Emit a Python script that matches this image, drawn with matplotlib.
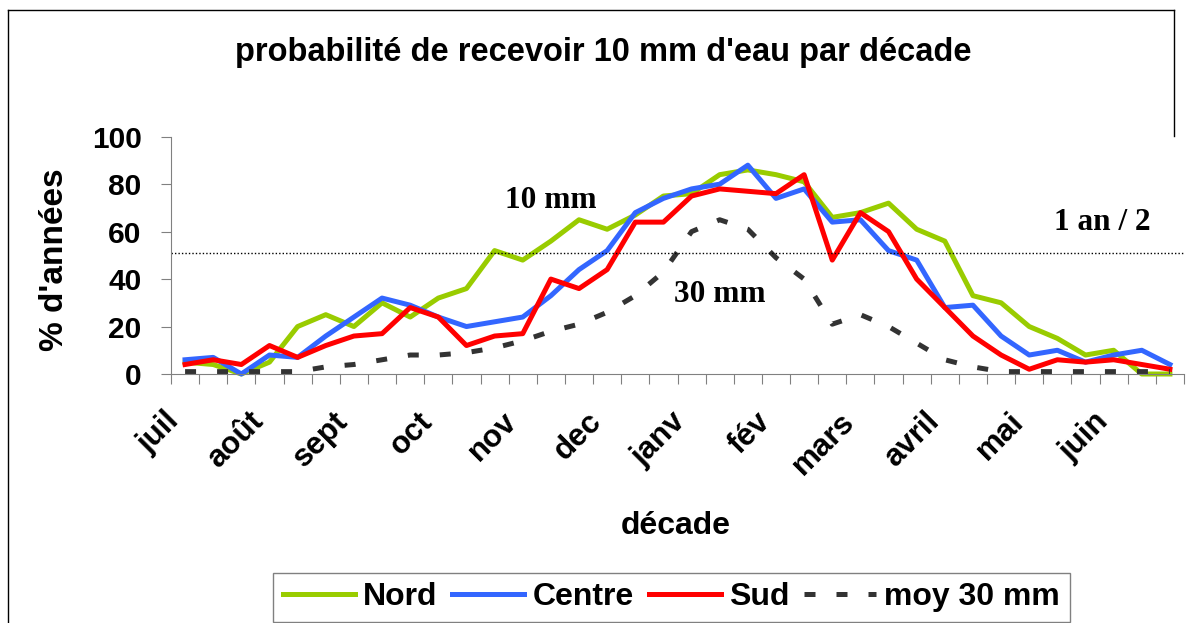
import numpy as np
import matplotlib.pyplot as plt
from matplotlib.lines import Line2D
from matplotlib.transforms import ScaledTranslation

plt.rcParams['font.family'] = ['Liberation Sans', 'DejaVu Sans']

# 36 décades, juillet -> juin
mois = ['juil', 'août', 'sept', 'oct', 'nov', 'dec',
        'janv', 'fév', 'mars', 'avril', 'mai', 'juin']
nord = [5, 4, 0, 5, 20, 25, 20, 30, 24, 32, 36, 52, 48, 56, 65, 61, 67, 75,
        76, 84, 86, 84, 81, 66, 68, 72, 61, 56, 33, 30, 20, 15, 8, 10, 0, 0]
centre = [6, 7, 0, 8, 7, 16, 24, 32, 29, 24, 20, 22, 24, 33, 44, 52, 68, 74,
          78, 80, 88, 74, 78, 64, 65, 52, 48, 28, 29, 16, 8, 10, 5, 8, 10, 4]
sud = [4, 6, 4, 12, 7, 12, 16, 17, 28, 24, 12, 16, 17, 40, 36, 44, 64, 64,
       75, 78, 77, 76, 84, 48, 68, 60, 40, 28, 16, 8, 2, 6, 5, 6, 4, 2]
moy30 = [1, 1, 1, 1, 1, 3, 4, 6, 8, 8, 9, 11, 14, 18, 21, 26, 33, 43,
         60, 65, 61, 49, 40, 21, 25, 20, 13, 6, 3, 1, 1, 1, 1, 1, 1, 1]
seuil = 51  # 1 an / 2

W, H = 1186, 623
fig = plt.figure(figsize=(W / 100, H / 100), dpi=100)
ax = fig.add_axes([171 / W, 1 - 374 / H, 1013 / W, 237.3 / H])

x = np.arange(len(nord))
ax.plot(x, nord, color='#99CC00', lw=3.6, label='Nord', clip_on=False)
ax.plot(x, centre, color='#3366FF', lw=3.6, label='Centre', clip_on=False)
ax.plot(x, sud, color='#FF0000', lw=3.6, label='Sud', clip_on=False)
ax.plot(x, moy30, color='#333333', lw=3.6, ls=(0, (2.2, 4.2)),
        dash_capstyle='butt', label='moy 30 mm', clip_on=False)
ax.axhline(seuil, color='black', lw=1, ls=(0, (1, 1.5)))

ax.set_xlim(-0.5, len(nord) - 0.5)
ax.set_ylim(0, 100)
ax.set_yticks(range(0, 101, 20))
ax.set_xticks(np.arange(-0.5, len(nord), 1))
ax.set_xticklabels([])
ax.set_xticks(np.arange(0, len(nord), 3), minor=True)
ax.set_xticklabels(mois, minor=True, rotation=45, ha='right', va='center',
                   rotation_mode='anchor', fontsize=22.5, fontweight='bold')
ax.tick_params(axis='x', which='minor', length=0, pad=31)
ax.tick_params(axis='x', which='major', length=7.2, color='#808080')
ax.tick_params(axis='y', length=7.2, pad=14, labelsize=21.5, color='#808080')
for lab in ax.get_yticklabels():
    lab.set_fontweight('bold')
for lab in ax.get_xticklabels(minor=True):
    lab.set_transform(lab.get_transform() + ScaledTranslation(-0.10, 0, fig.dpi_scale_trans))

for s in ['top', 'right']:
    ax.spines[s].set_visible(False)
for s in ['left', 'bottom']:
    ax.spines[s].set_color('#808080')

ax.text(13, 73.3, '10 mm', family='Liberation Serif', weight='bold', size=22.5,
        ha='center', va='center')
ax.text(19, 33.3, '30 mm', family='Liberation Serif', weight='bold', size=22.5,
        ha='center', va='center')
ax.text(32.6, 63.8, '1 an / 2', family='Liberation Serif', weight='bold', size=22.5,
        ha='center', va='center')

fig.text(603.5 / W, 1 - 52 / H, "probabilité de recevoir 10 mm d'eau par décade",
         ha='center', va='center', fontsize=23.5, fontweight='bold')
fig.text(55 / W, 1 - 260 / H, "% d'années", rotation=90, ha='center', va='center',
         fontsize=24, fontweight='bold')
fig.text(676 / W, 1 - 525.7 / H, 'décade', ha='center', va='center',
         fontsize=23, fontweight='bold')

leg = ax.legend(loc='upper left', bbox_to_anchor=(273 / W, 1 - 572.7 / H),
                bbox_transform=fig.transFigure, ncol=4,
                prop={'weight': 'bold', 'size': 23}, handlelength=2.26,
                handletextpad=0.25, columnspacing=0.47, borderpad=0.3,
                borderaxespad=0, fancybox=False, edgecolor='#808080', framealpha=1)
leg.get_frame().set_linewidth(1)

# cadre du graphique
fx, fy = 8 / W, 1 - 10 / H
fig.add_artist(Line2D([fx, fx], [0, fy], transform=fig.transFigure, color='black', lw=1))
fig.add_artist(Line2D([fx, 1174 / W], [fy, fy], transform=fig.transFigure, color='black', lw=1))
fig.add_artist(Line2D([1174 / W, 1174 / W], [fy, 1 - 136 / H], transform=fig.transFigure,
                      color='black', lw=1))

fig.savefig('out.png', dpi=100)
